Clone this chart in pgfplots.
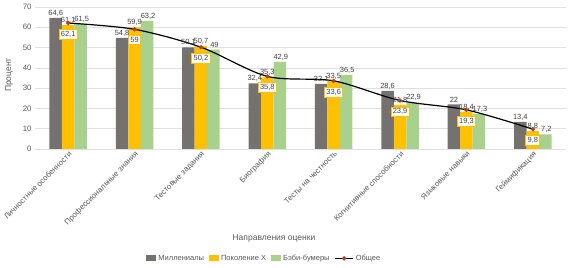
\documentclass[border=0pt]{standalone}
\usepackage{pgfplots}
\pgfplotsset{compat=1.18}
\usepackage{fontspec}
\setmainfont{Liberation Sans}
\definecolor{cgray}{HTML}{767171}
\definecolor{cyel}{HTML}{FFC000}
\definecolor{cgreen}{HTML}{A9D18E}
\definecolor{cmark}{HTML}{A5461C}
\definecolor{ctext}{HTML}{595959}
\definecolor{clab}{HTML}{404040}
\begin{document}
\begin{tikzpicture}
\begin{axis}[
  at={(35pt,119pt)}, anchor=south west,
  scale only axis, width=531pt, height=142pt,
  xmin=-0.5, xmax=7.5, ymin=0, ymax=70,
  ytick={0,10,...,70},
  xtick={0,...,7},
  xticklabels={Личностные особенности, Профессиональные знания, Тестовые задания, Биография, Тесты на честность, Когнитивные способности, Языковые навыки, Геймификация},
  x tick label style={rotate=45, anchor=north east, font=\fontsize{7.8}{9}\selectfont, text=ctext, inner sep=1pt},
  y tick label style={font=\fontsize{7.8}{9}\selectfont, text=ctext},
  /pgf/number format/assume math mode=true,
  /pgf/number format/use comma,
  ymajorgrids, grid style={color=black!12, line width=0.6pt},
  axis line style={draw=none},
  major tick length=0pt,
  xlabel={Направления оценки},
  ylabel={Процент},
  xlabel style={at={(axis description cs:0.45,-0.627)}, anchor=center, font=\fontsize{8.5}{10}\selectfont, text=ctext},
  ylabel style={at={(axis description cs:-0.049,0.52)}, anchor=center, rotate=0, font=\fontsize{8.5}{10}\selectfont, text=ctext},
  legend style={at={(axis description cs:0.432,-0.77)}, anchor=center, draw=none, font=\fontsize{7.5}{9}\selectfont, text=ctext, legend columns=4, /tikz/every even column/.append style={column sep=3pt}},
  legend image code/.code={\fill[#1] (0pt,-2.5pt) rectangle (10pt,3pt);},
  clip=false,
]
\addplot[ybar, bar width=12.5pt, bar shift=-12.5pt, fill=cgray, draw=none,
  nodes near coords, every node near coord/.append style={xshift=-12.5pt, font=\fontsize{7.5}{9}\selectfont, text=clab, inner sep=1.5pt}]
  coordinates {(0,64.6) (1,54.8) (2,50.1) (3,32.4) (4,32.1) (5,28.6) (6,22) (7,13.4)};
\addlegendentry{Миллениалы}
\addplot[ybar, bar width=12.5pt, bar shift=0pt, fill=cyel, draw=none,
  nodes near coords, every node near coord/.append style={xshift=0pt, font=\fontsize{7.5}{9}\selectfont, text=clab, inner sep=1.5pt}]
  coordinates {(0,61.1) (1,59.9) (2,50.7) (3,35.3) (4,33.5) (5,21.8) (6,18.4) (7,8.8)};
\addlegendentry{Поколение X}
\addplot[ybar, bar width=12.5pt, bar shift=12.5pt, fill=cgreen, draw=none,
  nodes near coords, every node near coord/.append style={xshift=13.5pt, font=\fontsize{7.5}{9}\selectfont, text=clab, inner sep=1.5pt}]
  coordinates {(0,61.5) (1,63.2) (2,49) (3,42.9) (4,36.5) (5,22.9) (6,17.3) (7,7.2)};
\addlegendentry{Бэби-бумеры}
\addplot[black, line width=1.2pt, smooth, mark=*, mark size=1.5pt, mark options={fill=cmark, draw=cmark},
  legend image code/.code={\draw[black, line width=1.2pt] (0pt,0pt) -- (18pt,0pt); \fill[cmark] (9pt,0pt) circle (1.5pt);},
  nodes near coords, every node near coord/.append style={draw=cyel, line width=0.7pt, fill=white, anchor=north, yshift=-6pt, font=\fontsize{7.5}{9}\selectfont, text=clab, inner sep=1.8pt}]
  coordinates {(0,62.1) (1,59) (2,50.2) (3,35.8) (4,33.6) (5,23.9) (6,19.3) (7,9.8)};
\addlegendentry{Общее}
\end{axis}
\pgfresetboundingbox
\useasboundingbox (0,0) rectangle (574pt,268pt);
\end{tikzpicture}
\end{document}
